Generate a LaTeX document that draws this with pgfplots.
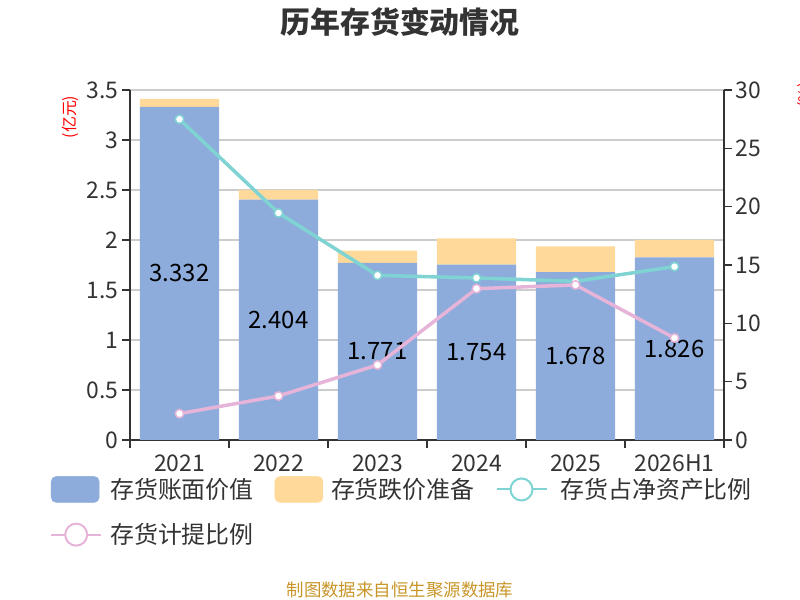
\documentclass[border=0pt]{standalone}
\usepackage{fontspec}
\setmainfont{Noto Sans CJK SC}
\usepackage{pgfplots}
\usepackage{pgfplotstable}
\pgfplotsset{compat=1.18}
\definecolor{barblue}{RGB}{141,172,219}
\definecolor{barorange}{RGB}{255,217,153}
\definecolor{tealc}{RGB}{127,212,211}
\definecolor{pinkc}{RGB}{231,180,217}
\definecolor{axc}{RGB}{51,51,51}
\definecolor{gridc}{RGB}{204,204,204}
\definecolor{txtc}{RGB}{51,51,51}
\definecolor{footc}{RGB}{200,150,40}

\pgfplotstableread{
x book reserve
0 3.332 0.078
1 2.404 0.096
2 1.771 0.122
3 1.754 0.262
4 1.678 0.258
5 1.826 0.174
}\bars

\pgfplotstableread{
x share prov
0 27.49 2.26
1 19.46 3.77
2 14.11 6.43
3 13.89 12.97
4 13.60 13.29
5 14.86 8.74
}\lines

\begin{document}
\begin{tikzpicture}[x=1bp,y=1bp]
\useasboundingbox (0,0) rectangle (800,600);
\pgfplotsset{base/.style={at={(130bp,160bp)}, anchor=south west, scale only axis,
  width=594bp, height=350bp, xmin=-0.5, xmax=5.5, enlargelimits=false,
  /pgf/number format/assume math mode=true,
  tick label style={font=\fontsize{23}{27}\selectfont, text=txtc},
  axis line style={draw=axc, line width=1.5bp, -},
  tick style={draw=axc, line width=1.5bp},
  major tick length=8bp, tick align=outside}}

% bars
\begin{axis}[base, ybar stacked, bar width=0.8, ymin=0, ymax=3.5,
  ytick={0,0.5,1,1.5,2,2.5,3,3.5},
  yticklabels={0,0.5,1,1.5,2,2.5,3,3.5},
  ymajorgrids, grid style={draw=gridc, line width=1.5bp},
  axis y line*=left, axis x line*=bottom,
  xtick={-0.5,0.5,1.5,2.5,3.5,4.5,5.5},
  xticklabels={2021,2022,2023,2024,2025,2026H1},
  x tick label as interval,
  xticklabel style={yshift=-3bp}]
\addplot[fill=barblue, draw=none] table[x=x, y=book] {\bars};
\addplot[fill=barorange, draw=none] table[x=x, y=reserve] {\bars};
\end{axis}

% value labels
\begin{axis}[base, hide axis, ymin=0, ymax=3.5]
\addplot[draw=none, nodes near coords, point meta=explicit symbolic,
  every node near coord/.style={anchor=center, font=\fontsize{24}{28}\selectfont, text=black}]
  table[x=x, y expr=\thisrow{book}/2, meta=book] {\bars};
\end{axis}

% lines
\begin{axis}[base, ymin=0, ymax=30, ytick={0,5,10,15,20,25,30},
  axis y line*=right, axis x line=none,
  legend columns=3, legend cell align=left,
  legend style={at={(-0.1347,-0.103)}, anchor=north west, draw=none, fill=none,
    inner sep=0pt, font=\fontsize{24}{28}\selectfont, text=txtc, row sep=20bp,
    nodes={inner sep=0pt},
    /tikz/every odd column/.append style={column sep=8bp},
    /tikz/every even column/.append style={column sep=21bp}}]
\addlegendimage{legend image code/.code={\fill[barblue, rounded corners=5bp] (0bp,-13bp) rectangle (48bp,13bp);}}
\addlegendentry{存货账面价值}
\addlegendimage{legend image code/.code={\fill[barorange, rounded corners=5bp] (0bp,-13bp) rectangle (48bp,13bp);}}
\addlegendentry{存货跌价准备}
\addplot[tealc, line width=3.5bp, mark=*, mark size=4.2bp,
  mark options={fill=white, draw=tealc, line width=1.5bp},
  legend image code/.code={\draw[tealc, line width=2bp] (0bp,0bp) -- (50bp,0bp);
    \draw[tealc, fill=white, line width=2bp] (25bp,0bp) circle (11bp);}]
  table[x=x, y=share] {\lines};
\addlegendentry{\hspace*{5bp}存货占净资产比例}
\addplot[pinkc, line width=3.5bp, mark=*, mark size=4.2bp,
  mark options={fill=white, draw=pinkc, line width=1.5bp},
  legend image code/.code={\draw[pinkc, line width=2bp] (0bp,0bp) -- (50bp,0bp);
    \draw[pinkc, fill=white, line width=2bp] (25bp,0bp) circle (11bp);}]
  table[x=x, y=prov] {\lines};
\addlegendentry{存货计提比例}
\end{axis}

\node[font=\bfseries\fontsize{30}{35}\selectfont, text=txtc] at (400,578) {历年存货变动情况};
\node[font=\fontsize{16}{19}\selectfont, text=red, rotate=90] at (70,483) {(亿元)};
\node[font=\fontsize{16}{19}\selectfont, text=red, rotate=90] at (806,505) {(\%)};
\node[font=\fontsize{17.5}{20}\selectfont, text=footc] at (400,10) {制图数据来自恒生聚源数据库};
\end{tikzpicture}
\end{document}
